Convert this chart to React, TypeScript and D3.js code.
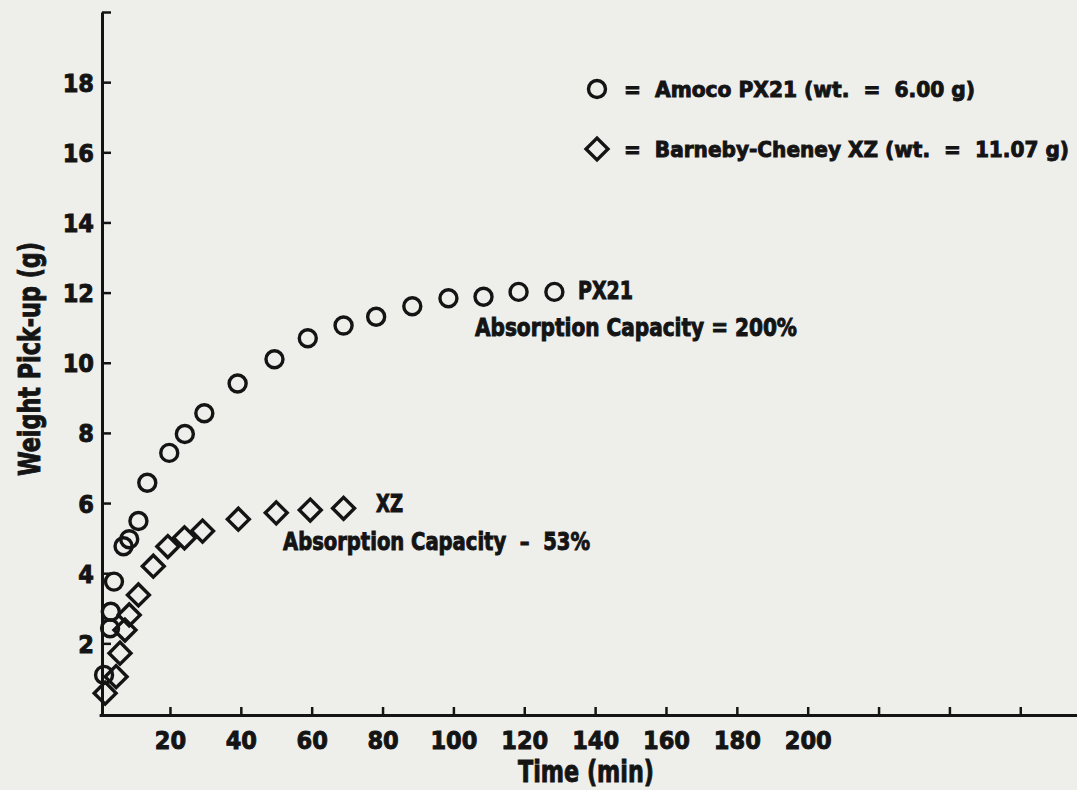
import React, { useEffect, useRef } from "react";
import * as d3 from "d3";

// PX21 (circles) – time (min), weight pick-up (g)
const px21Time = [1.4, 3.1, 3.3, 4.2, 6.9, 8.5, 11.1, 13.6, 19.8, 24.2, 29.7, 39.1, 49.5, 58.9, 69.0, 78.2, 88.4, 98.6, 108.5, 118.4, 128.5];
const px21Weight = [1.1, 2.43, 2.9, 3.76, 4.77, 4.97, 5.49, 6.58, 7.43, 7.97, 8.56, 9.41, 10.1, 10.7, 11.06, 11.31, 11.61, 11.84, 11.88, 12.02, 12.02];

// XZ (diamonds)
const xzTime = [1.7, 4.8, 5.9, 7.3, 8.5, 11.1, 15.3, 19.4, 24.1, 29.2, 39.3, 50.0, 59.6, 69.0];
const xzWeight = [0.58, 1.05, 1.72, 2.38, 2.81, 3.38, 4.2, 4.76, 5.01, 5.2, 5.54, 5.72, 5.8, 5.85];

const xTicks = [20, 40, 60, 80, 100, 120, 140, 160, 180, 200, 220, 240, 260];
const xLabelMax = 200;
const yTicks = [2, 4, 6, 8, 10, 12, 14, 16, 18, 20];
const yLabelMax = 18;

const legendLabels = ["=  Amoco PX21 (wt.  =  6.00 g)", "=  Barneby-Cheney XZ (wt.  =  11.07 g)"];
const px21Label = "PX21";
const px21Capacity = "Absorption Capacity = 200%";
const xzLabel = "XZ";
const xzCapacity = "Absorption Capacity  –  53%";
const xTitle = "Time (min)";
const yTitle = "Weight Pick-up (g)";

const W = 1077;
const H = 790;
const INK = "#141414";
const FONT = "'Liberation Sans Narrow', 'DejaVu Sans Condensed', 'Roboto', sans-serif";

export default function App() {
  const ref = useRef<SVGSVGElement | null>(null);

  useEffect(() => {
    const svg = d3.select(ref.current);
    svg.selectAll("*").remove();

    const x = d3.scaleLinear().domain([0, 280]).range([99.1, 99.1 + 280 * 3.543]);
    const y = d3.scaleLinear().domain([0, 20]).range([713.5, 12]);
    const yAxisX = 102;

    svg.append("rect").attr("width", W).attr("height", H).attr("fill", "#eeeeeb");

    // X axis
    const gx = svg
      .append("g")
      .attr("transform", `translate(0,${y(0) + 1.5})`)
      .call(
        d3
          .axisBottom(x)
          .tickValues(xTicks)
          .tickSizeInner(-8)
          .tickSizeOuter(0)
          .tickPadding(12)
          .tickFormat((d: any) => (d <= xLabelMax ? String(d) : ""))
      );
    gx.select(".domain").attr("stroke", INK).attr("stroke-width", 3);
    gx.selectAll(".tick line").attr("stroke", INK).attr("stroke-width", 2.5);
    gx.selectAll(".tick text")
      .attr("fill", INK)
      .attr("stroke", INK)
      .attr("stroke-width", 0.9)
      .attr("font-family", FONT)
      .attr("font-weight", "bold")
      .attr("font-size", 25)
      .attr("dy", "0.88em");

    // Y axis
    const gy = svg
      .append("g")
      .attr("transform", `translate(${yAxisX},0)`)
      .call(
        d3
          .axisLeft(y)
          .tickValues(yTicks)
          .tickSizeInner(-9)
          .tickSizeOuter(0)
          .tickPadding(8)
          .tickFormat((d: any) => (d <= yLabelMax ? String(d) : ""))
      );
    gy.select(".domain").attr("stroke", INK).attr("stroke-width", 3);
    gy.selectAll(".tick line").attr("stroke", INK).attr("stroke-width", 2.5);
    gy.selectAll(".tick text")
      .attr("fill", INK)
      .attr("stroke", INK)
      .attr("stroke-width", 0.9)
      .attr("font-family", FONT)
      .attr("font-weight", "bold")
      .attr("font-size", 25)
      .attr("dy", "0.36em");

    const circ = d3.symbol().type(d3.symbolCircle).size(Math.PI * 8.5 * 8.5);
    const diam = d3.symbol().type(d3.symbolSquare).size(15.5 * 15.5);

    // XZ diamonds
    svg
      .append("g")
      .selectAll("path")
      .data(xzTime.map((t, i) => [t, xzWeight[i]]))
      .join("path")
      .attr("d", diam() as string)
      .attr("transform", (d) => `translate(${x(d[0])},${y(d[1])}) rotate(45)`)
      .attr("fill", "none")
      .attr("stroke", INK)
      .attr("stroke-width", 3.4);

    // PX21 circles
    svg
      .append("g")
      .selectAll("path")
      .data(px21Time.map((t, i) => [t, px21Weight[i]]))
      .join("path")
      .attr("d", circ() as string)
      .attr("transform", (d) => `translate(${x(d[0])},${y(d[1])})`)
      .attr("fill", "none")
      .attr("stroke", INK)
      .attr("stroke-width", 3.4);

    const txt = (s: string, tx: number, ty: number, size: number, len?: number) => {
      const t = svg
        .append("text")
        .attr("x", tx)
        .attr("y", ty)
        .attr("fill", INK)
        .attr("stroke", INK)
        .attr("stroke-width", 0.9)
        .attr("font-family", FONT)
        .attr("font-weight", "bold")
        .attr("font-size", size)
        .style("white-space", "pre")
        .text(s);
      if (len) t.attr("textLength", len).attr("lengthAdjust", "spacingAndGlyphs");
      return t;
    };

    // Legend
    svg
      .append("path")
      .attr("d", circ() as string)
      .attr("transform", `translate(597,89)`)
      .attr("fill", "none")
      .attr("stroke", INK)
      .attr("stroke-width", 3.4);
    txt(legendLabels[0], 624, 97, 22, 351);
    svg
      .append("path")
      .attr("d", diam() as string)
      .attr("transform", `translate(597,149) rotate(45)`)
      .attr("fill", "none")
      .attr("stroke", INK)
      .attr("stroke-width", 3.4);
    txt(legendLabels[1], 624, 157, 22, 445);

    // Annotations
    txt(px21Label, 578, 299, 24, 55);
    txt(px21Capacity, 475, 336, 24, 322);
    txt(xzLabel, 376, 512, 24, 27);
    txt(xzCapacity, 283, 550, 24, 307);

    // Axis titles
    txt(xTitle, 518, 782, 30, 136);
    const yt = txt(yTitle, 0, 0, 30, 234);
    yt.attr("transform", `translate(40,476) rotate(-90)`);
  }, []);

  return (
    <svg
      ref={ref}
      width={W}
      height={H}
      style={{ position: "absolute", left: 0, top: 0, display: "block" }}
    />
  );
}
